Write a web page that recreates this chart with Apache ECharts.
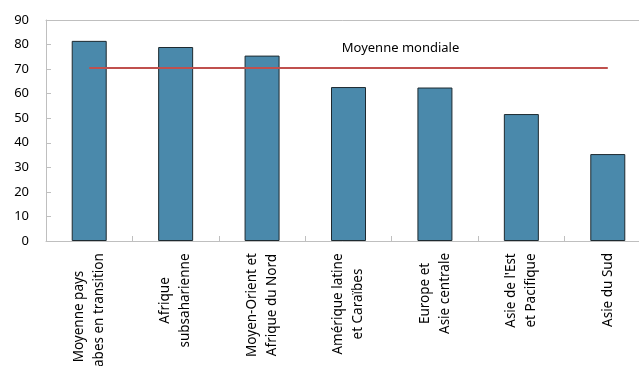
<!DOCTYPE html>
<html>
<head>
<meta charset="utf-8">
<script src="https://cdn.jsdelivr.net/npm/echarts@6/dist/echarts.min.js"></script>
<style>
  html, body { margin: 0; padding: 0; background: #fff; }
  #chart { width: 639px; height: 366px; }
</style>
</head>
<body>
<div id="chart"></div>
<script>
// Regions, each label split over two lines
const categories = [
  ['Moyenne pays', 'arabes en transition'],
  ['Afrique', 'subsaharienne'],
  ['Moyen-Orient et', 'Afrique du Nord'],
  ['Amérique latine', 'et Caraïbes'],
  ['Europe et', 'Asie centrale'],
  ["Asie de l'Est", 'et Pacifique'],
  ['Asie du Sud']
];
const regionValues = [81.5, 79, 75.5, 62.7, 62.5, 51.7, 35.4];
const worldAverage = 70.5;
const worldAverageLabel = 'Moyenne mondiale';
const yTicks = { min: 0, max: 90, interval: 10 };

const FONT = 'Noto Sans';
const LABEL_SIZE = 13.5;
const FRAME = '#bfbfbf';

// Each category label gets its own rich style whose width is its longest line,
// so the lines are centred on each other while the block ends at the axis.
const measureCtx = document.createElement('canvas').getContext('2d');
measureCtx.font = LABEL_SIZE + 'px "' + FONT + '"';
const rich = {};
categories.forEach((lines, i) => {
  const w = Math.max(...lines.map(s => measureCtx.measureText(s).width));
  rich['c' + i] = {
    width: Math.ceil(w), align: 'center',
    fontSize: LABEL_SIZE, lineHeight: 20, color: '#000', fontFamily: FONT
  };
});

const catIds = categories.map((c, i) => String(i));
const LABEL_INDEX = 3;

const chart = echarts.init(document.getElementById('chart'));

chart.setOption({
  animation: false,
  textStyle: { fontFamily: FONT },
  grid: {
    left: 46, top: 20, width: 605, height: 221,
    outerBoundsMode: 'none',
    containLabel: false
  },
  xAxis: [
    {
      type: 'category',
      data: catIds,
      axisLine: { lineStyle: { color: FRAME } },
      axisTick: { show: true, inside: true, length: 5, lineStyle: { color: FRAME } },
      axisLabel: {
        interval: 0,
        rotate: 90,
        margin: 12,
        color: '#000',
        fontSize: LABEL_SIZE,
        hideOverlap: false,
        formatter: (v) => categories[+v].map(s => '{c' + v + '|' + s + '}').join('\n'),
        rich: rich
      }
    },
    {
      // top edge of the plot frame
      type: 'category',
      data: catIds,
      position: 'top',
      axisLine: { show: true, lineStyle: { color: FRAME } },
      axisTick: { show: false },
      axisLabel: { show: false }
    }
  ],
  yAxis: {
    type: 'value',
    min: yTicks.min, max: yTicks.max, interval: yTicks.interval,
    axisLine: { show: true, lineStyle: { color: FRAME } },
    axisTick: { show: true, inside: true, length: 5, lineStyle: { color: FRAME } },
    splitLine: { show: false },
    axisLabel: { color: '#000', fontSize: 13, margin: 17 }
  },
  series: [
    {
      type: 'bar',
      data: regionValues,
      barWidth: 35,
      itemStyle: { color: '#4a89ab', borderColor: '#1e2a30', borderWidth: 1 }
    },
    {
      type: 'line',
      data: categories.map((c, i) => i === LABEL_INDEX
        ? {
            value: worldAverage,
            label: {
              show: true, position: 'top',
              formatter: worldAverageLabel,
              color: '#000', fontSize: 13,
              offset: [52, -8]
            }
          }
        : worldAverage),
      symbol: 'circle',
      symbolSize: 0,
      showSymbol: true,
      itemStyle: { color: '#c0504d' },
      lineStyle: { color: '#c0504d', width: 2 },
      z: 5
    }
  ]
});
</script>
</body>
</html>
